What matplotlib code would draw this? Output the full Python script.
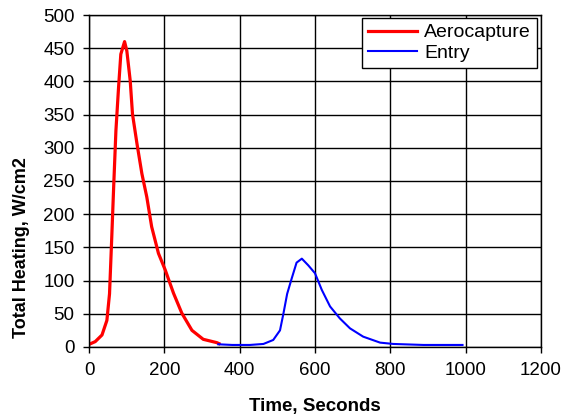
import matplotlib.pyplot as plt

plt.rcParams['font.family'] = ['Liberation Sans', 'DejaVu Sans']

# Aerocapture heating pulse
aero_time = [0, 16, 34, 47, 54, 60, 65, 71, 78, 84, 94, 100, 109, 115, 127,
             140, 153, 166, 184, 202, 224, 246, 273, 303, 339, 345]
aero_heat = [4, 8, 18, 40, 80, 166, 241, 326, 391, 441, 460, 446, 401, 351,
             306, 261, 226, 181, 141, 116, 81, 51, 25, 11.5, 6.5, 5]

# Entry heating pulse
entry_time = [343, 380, 427, 463, 489, 507, 516, 526, 538, 551, 565, 582,
              600, 618, 640, 666, 693, 728, 773, 808, 888, 992]
entry_heat = [4, 3, 3, 4.5, 10.5, 25, 50, 80, 103, 127, 133, 123,
              111, 86, 61, 43, 28, 15.5, 6.5, 4.5, 3, 3]

fig = plt.figure(figsize=(5.61, 4.18), dpi=100)
ax = fig.add_axes([0.159, 0.170, 0.805, 0.794])

ax.plot(aero_time, aero_heat, color='#ff0000', linewidth=2.3, label='Aerocapture')
ax.plot(entry_time, entry_heat, color='#0000ff', linewidth=1.5, label='Entry')

ax.set_xlim(0, 1200)
ax.set_ylim(0, 500)
ax.set_xticks(range(0, 1201, 200))
ax.set_yticks(range(0, 501, 50))
ax.grid(True, color='black', linewidth=1)
ax.set_axisbelow(True)

for s in ax.spines.values():
    s.set_color('black')
    s.set_linewidth(1)

ax.tick_params(direction='out', length=4.5, width=1, labelsize=13.5, pad=6)

ax.set_xlabel('Time, Seconds', fontsize=13.5, fontweight='bold', labelpad=9)
ax.set_ylabel('Total Heating, W/cm2', fontsize=13, fontweight='bold', labelpad=8)
ax.yaxis.set_label_coords(22 / 561, 170 / 418, transform=fig.transFigure)
ax.xaxis.set_label_coords(315 / 561, 1 - 406 / 418, transform=fig.transFigure)
ax.xaxis.label.set_va('center')
ax.yaxis.label.set_va('center')

leg = ax.legend(loc='upper right', bbox_to_anchor=(537 / 561, 1 - 18 / 418),
                bbox_transform=fig.transFigure, fontsize=14, frameon=True,
                fancybox=False, framealpha=1, edgecolor='black',
                handlelength=2.5, handletextpad=0.4, borderpad=0.3,
                labelspacing=0.15, borderaxespad=0)
leg.get_frame().set_linewidth(1)

fig.savefig('out.png', dpi=100)
